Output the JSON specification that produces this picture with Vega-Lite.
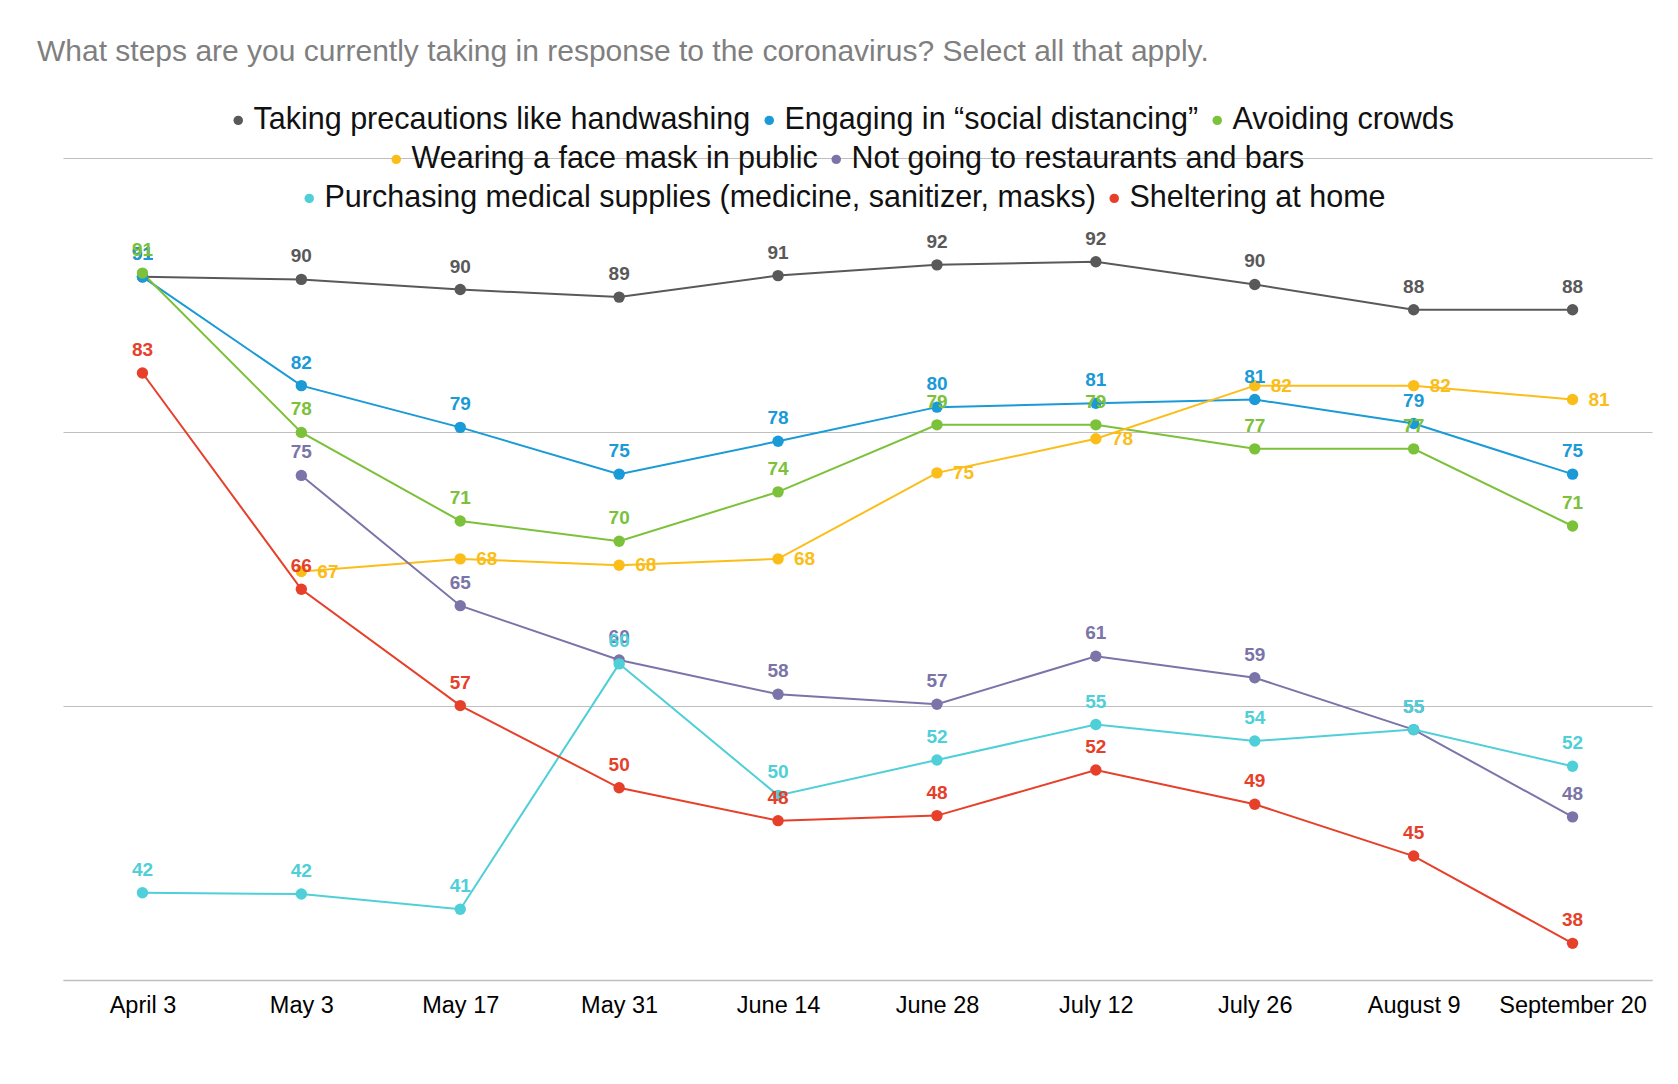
{
  "$schema": "https://vega.github.io/schema/vega-lite/v6.json",
  "width": 1589,
  "height": 822,
  "autosize": {"type": "none"},
  "padding": {"left": 63, "top": 158, "right": 26, "bottom": 104},
  "background": "white",
  "title": {
    "text": "What steps are you currently taking in response to the coronavirus? Select all that apply.",
    "anchor": "start",
    "frame": "group",
    "dx": -26,
    "offset": 38,
    "font": "Liberation Sans",
    "fontSize": 30,
    "fontWeight": "normal",
    "color": "#7f7f7f"
  },
  "data": {
    "values": [
      {"date": "April 3", "series": "Taking precautions like handwashing", "value": 90.6},
      {"date": "May 3", "series": "Taking precautions like handwashing", "value": 90.4},
      {"date": "May 17", "series": "Taking precautions like handwashing", "value": 89.6},
      {"date": "May 31", "series": "Taking precautions like handwashing", "value": 89.0},
      {"date": "June 14", "series": "Taking precautions like handwashing", "value": 90.7},
      {"date": "June 28", "series": "Taking precautions like handwashing", "value": 91.55},
      {"date": "July 12", "series": "Taking precautions like handwashing", "value": 91.8},
      {"date": "July 26", "series": "Taking precautions like handwashing", "value": 90.0},
      {"date": "August 9", "series": "Taking precautions like handwashing", "value": 88.0},
      {"date": "September 20", "series": "Taking precautions like handwashing", "value": 88.0},
      {"date": "April 3", "series": "Engaging in “social distancing”", "value": 90.6},
      {"date": "May 3", "series": "Engaging in “social distancing”", "value": 82.0},
      {"date": "May 17", "series": "Engaging in “social distancing”", "value": 78.7},
      {"date": "May 31", "series": "Engaging in “social distancing”", "value": 75.0},
      {"date": "June 14", "series": "Engaging in “social distancing”", "value": 77.6},
      {"date": "June 28", "series": "Engaging in “social distancing”", "value": 80.3},
      {"date": "July 12", "series": "Engaging in “social distancing”", "value": 80.6},
      {"date": "July 26", "series": "Engaging in “social distancing”", "value": 80.9},
      {"date": "August 9", "series": "Engaging in “social distancing”", "value": 79.0},
      {"date": "September 20", "series": "Engaging in “social distancing”", "value": 75.0},
      {"date": "April 3", "series": "Avoiding crowds", "value": 90.9},
      {"date": "May 3", "series": "Avoiding crowds", "value": 78.3},
      {"date": "May 17", "series": "Avoiding crowds", "value": 71.3},
      {"date": "May 31", "series": "Avoiding crowds", "value": 69.7},
      {"date": "June 14", "series": "Avoiding crowds", "value": 73.6},
      {"date": "June 28", "series": "Avoiding crowds", "value": 78.9},
      {"date": "July 12", "series": "Avoiding crowds", "value": 78.9},
      {"date": "July 26", "series": "Avoiding crowds", "value": 77.0},
      {"date": "August 9", "series": "Avoiding crowds", "value": 77.0},
      {"date": "September 20", "series": "Avoiding crowds", "value": 70.9},
      {"date": "May 3", "series": "Wearing a face mask in public", "value": 67.3},
      {"date": "May 17", "series": "Wearing a face mask in public", "value": 68.3},
      {"date": "May 31", "series": "Wearing a face mask in public", "value": 67.8},
      {"date": "June 14", "series": "Wearing a face mask in public", "value": 68.3},
      {"date": "June 28", "series": "Wearing a face mask in public", "value": 75.1},
      {"date": "July 12", "series": "Wearing a face mask in public", "value": 77.8},
      {"date": "July 26", "series": "Wearing a face mask in public", "value": 82.0},
      {"date": "August 9", "series": "Wearing a face mask in public", "value": 82.0},
      {"date": "September 20", "series": "Wearing a face mask in public", "value": 80.9},
      {"date": "May 3", "series": "Not going to restaurants and bars", "value": 74.9},
      {"date": "May 17", "series": "Not going to restaurants and bars", "value": 64.6},
      {"date": "May 31", "series": "Not going to restaurants and bars", "value": 60.3},
      {"date": "June 14", "series": "Not going to restaurants and bars", "value": 57.6},
      {"date": "June 28", "series": "Not going to restaurants and bars", "value": 56.8},
      {"date": "July 12", "series": "Not going to restaurants and bars", "value": 60.6},
      {"date": "July 26", "series": "Not going to restaurants and bars", "value": 58.9},
      {"date": "August 9", "series": "Not going to restaurants and bars", "value": 54.8},
      {"date": "September 20", "series": "Not going to restaurants and bars", "value": 47.9},
      {"date": "April 3", "series": "Purchasing medical supplies (medicine, sanitizer, masks)", "value": 41.9},
      {"date": "May 3", "series": "Purchasing medical supplies (medicine, sanitizer, masks)", "value": 41.8},
      {"date": "May 17", "series": "Purchasing medical supplies (medicine, sanitizer, masks)", "value": 40.6},
      {"date": "May 31", "series": "Purchasing medical supplies (medicine, sanitizer, masks)", "value": 60.0},
      {"date": "June 14", "series": "Purchasing medical supplies (medicine, sanitizer, masks)", "value": 49.6},
      {"date": "June 28", "series": "Purchasing medical supplies (medicine, sanitizer, masks)", "value": 52.4},
      {"date": "July 12", "series": "Purchasing medical supplies (medicine, sanitizer, masks)", "value": 55.2},
      {"date": "July 26", "series": "Purchasing medical supplies (medicine, sanitizer, masks)", "value": 53.9},
      {"date": "August 9", "series": "Purchasing medical supplies (medicine, sanitizer, masks)", "value": 54.8},
      {"date": "September 20", "series": "Purchasing medical supplies (medicine, sanitizer, masks)", "value": 51.9},
      {"date": "April 3", "series": "Sheltering at home", "value": 83.0},
      {"date": "May 3", "series": "Sheltering at home", "value": 65.9},
      {"date": "May 17", "series": "Sheltering at home", "value": 56.7},
      {"date": "May 31", "series": "Sheltering at home", "value": 50.2},
      {"date": "June 14", "series": "Sheltering at home", "value": 47.6},
      {"date": "June 28", "series": "Sheltering at home", "value": 48.0},
      {"date": "July 12", "series": "Sheltering at home", "value": 51.6},
      {"date": "July 26", "series": "Sheltering at home", "value": 48.9},
      {"date": "August 9", "series": "Sheltering at home", "value": 44.8},
      {"date": "September 20", "series": "Sheltering at home", "value": 37.9}
    ]
  },
  "encoding": {
    "x": {
      "field": "date",
      "type": "ordinal",
      "sort": ["April 3", "May 3", "May 17", "May 31", "June 14", "June 28", "July 12", "July 26", "August 9", "September 20"],
      "scale": {"type": "point", "padding": 0.5},
      "axis": {"title": null, "labelAngle": 0, "ticks": false, "grid": false, "domainColor": "#bfbfbf", "domainWidth": 1.3, "labelPadding": 13, "labelFontSize": 23.5, "labelColor": "#000000", "labelFont": "Liberation Sans"}
    },
    "y": {
      "field": "value",
      "type": "quantitative",
      "scale": {"domain": [35, 100], "nice": false, "zero": false},
      "axis": {"title": null, "labels": false, "ticks": false, "domain": false, "grid": true, "gridColor": "#bfbfbf", "gridWidth": 1.2, "values": [35, 56.667, 78.333, 100]}
    }
  },
  "layer": [
    {
      "mark": {"type": "line", "strokeWidth": 2},
      "encoding": {
        "stroke": {"field": "series", "type": "nominal", "legend": null,
          "scale": {"domain": ["Taking precautions like handwashing", "Engaging in “social distancing”", "Avoiding crowds", "Wearing a face mask in public", "Not going to restaurants and bars", "Purchasing medical supplies (medicine, sanitizer, masks)", "Sheltering at home"],
            "range": ["#595959", "#1a9ad6", "#7cc13a", "#fbbd18", "#7a74a9", "#4fcfd8", "#e6402a"]}}
      }
    },
    {
      "transform": [{"filter": {"field": "series", "oneOf": ["Taking precautions like handwashing", "Engaging in “social distancing”", "Avoiding crowds"]}}],
      "mark": {"type": "point", "filled": true, "opacity": 1, "size": 130},
      "encoding": {
        "color": {"field": "series", "type": "nominal",
          "scale": {"domain": ["Taking precautions like handwashing", "Engaging in “social distancing”", "Avoiding crowds"], "range": ["#595959", "#1a9ad6", "#7cc13a"]},
          "legend": {"orient": "none", "legendX": 160, "legendY": -53, "direction": "horizontal", "title": null}}
      }
    },
    {
      "transform": [{"filter": {"field": "series", "oneOf": ["Wearing a face mask in public", "Not going to restaurants and bars"]}}],
      "mark": {"type": "point", "filled": true, "opacity": 1, "size": 130},
      "encoding": {
        "color": {"field": "series", "type": "nominal",
          "scale": {"domain": ["Wearing a face mask in public", "Not going to restaurants and bars"], "range": ["#fbbd18", "#7a74a9"]},
          "legend": {"orient": "none", "legendX": 318, "legendY": -14, "direction": "horizontal", "title": null}}
      }
    },
    {
      "transform": [{"filter": {"field": "series", "oneOf": ["Purchasing medical supplies (medicine, sanitizer, masks)", "Sheltering at home"]}}],
      "mark": {"type": "point", "filled": true, "opacity": 1, "size": 130},
      "encoding": {
        "color": {"field": "series", "type": "nominal",
          "scale": {"domain": ["Purchasing medical supplies (medicine, sanitizer, masks)", "Sheltering at home"], "range": ["#4fcfd8", "#e6402a"]},
          "legend": {"orient": "none", "legendX": 231, "legendY": 25, "direction": "horizontal", "title": null}}
      }
    },
    {
      "transform": [{"filter": {"not": {"field": "series", "equal": "Wearing a face mask in public"}}}],
      "mark": {"type": "text", "baseline": "alphabetic", "dy": -17, "fontSize": 19, "fontWeight": "bold", "font": "Liberation Sans"},
      "encoding": {
        "text": {"field": "value", "type": "quantitative", "format": ".0f"},
        "fill": {"field": "series", "type": "nominal", "legend": null,
          "scale": {"domain": ["Taking precautions like handwashing", "Engaging in “social distancing”", "Avoiding crowds", "Wearing a face mask in public", "Not going to restaurants and bars", "Purchasing medical supplies (medicine, sanitizer, masks)", "Sheltering at home"],
            "range": ["#595959", "#1a9ad6", "#7cc13a", "#fbbd18", "#7a74a9", "#4fcfd8", "#e6402a"]}}
      }
    },
    {
      "transform": [{"filter": {"field": "series", "equal": "Wearing a face mask in public"}}],
      "mark": {"type": "text", "baseline": "middle", "align": "left", "dx": 16, "fontSize": 19, "fontWeight": "bold", "font": "Liberation Sans"},
      "encoding": {
        "text": {"field": "value", "type": "quantitative", "format": ".0f"},
        "fill": {"field": "series", "type": "nominal", "legend": null,
          "scale": {"domain": ["Taking precautions like handwashing", "Engaging in “social distancing”", "Avoiding crowds", "Wearing a face mask in public", "Not going to restaurants and bars", "Purchasing medical supplies (medicine, sanitizer, masks)", "Sheltering at home"],
            "range": ["#595959", "#1a9ad6", "#7cc13a", "#fbbd18", "#7a74a9", "#4fcfd8", "#e6402a"]}}
      }
    }
  ],
  "resolve": {"scale": {"color": "independent"}, "legend": {"color": "independent"}},
  "config": {
    "view": {"stroke": null},
    "legend": {
      "symbolType": "circle",
      "symbolSize": 90,
      "symbolStrokeWidth": 0,
      "labelFontSize": 30.5,
      "labelFont": "Liberation Sans",
      "labelColor": "#111111",
      "labelOffset": 0,
      "labelLimit": 2000,
      "columnPadding": 3,
      "padding": 0
    }
  }
}
